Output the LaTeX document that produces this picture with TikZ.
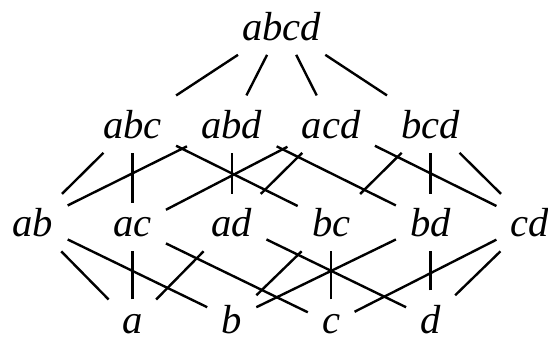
\documentclass[tikz,border=0pt]{standalone}
\usepackage{fontspec}
\setmainfont{Liberation Serif}
\tikzset{
    setnode/.style={rectangle, inner sep=7pt, anchor=base, font=\fontsize{20.3}{24}\selectfont\itshape},
    link/.style={line width=1.2pt, color=black}
}

\begin{document}
\begin{tikzpicture}[x=0.5pt, y=-0.5pt]
    \useasboundingbox (0,0) rectangle (548,339);

    \node (abcd) [setnode] at (281.7,40) {abcd};

    \node (abc) [setnode] at (132.4,138) {abc};
    \node (abd) [setnode] at (231.8,138) {abd};
    \node (acd) [setnode] at (331.2,138) {acd};
    \node (bcd) [setnode] at (430.6,138) {bcd};

    \node (ab) [setnode] at (33,236.5) {ab};
    \node (ac) [setnode] at (132.4,236.5) {ac};
    \node (ad) [setnode] at (231.8,236.5) {ad};
    \node (bc) [setnode] at (331.2,236.5) {bc};
    \node (bd) [setnode] at (430.6,236.5) {bd};
    \node (cd) [setnode] at (530,236.5) {cd};

    \node (a) [setnode] at (132.4,333) {a};
    \node (b) [setnode] at (231.8,333) {b};
    \node (c) [setnode] at (331.2,333) {c};
    \node (d) [setnode] at (430.6,333) {d};

    % top level
    \draw [link] (abcd) -- (abc);
    \draw [link] (abcd) -- (abd);
    \draw [link] (abcd) -- (acd);
    \draw [link] (abcd) -- (bcd);

    % pairs up to triples
    \draw [link] (ab) -- (abc);
    \draw [link] (ab) -- (abd);
    \draw [link] (ac) -- (abc);
    \draw [link] (ac) -- (acd);
    \draw [link] (ad) -- (abd);
    \draw [link] (ad) -- (acd);
    \draw [link] (bc) -- (abc);
    \draw [link] (bc) -- (bcd);
    \draw [link] (bd) -- (abd);
    \draw [link] (bd) -- (bcd);
    \draw [link] (cd) -- (acd);
    \draw [link] (cd) -- (bcd);

    % singletons up to pairs
    \draw [link] (a) -- (ab);
    \draw [link] (a) -- (ac);
    \draw [link] (a) -- (ad);
    \draw [link] (b) -- (ab);
    \draw [link] (b) -- (bc);
    \draw [link] (b) -- (bd);
    \draw [link] (c) -- (ac);
    \draw [link] (c) -- (bc);
    \draw [link] (c) -- (cd);
    \draw [link] (d) -- (ad);
    \draw [link] (d) -- (bd);
    \draw [link] (d) -- (cd);
\end{tikzpicture}
\end{document}
